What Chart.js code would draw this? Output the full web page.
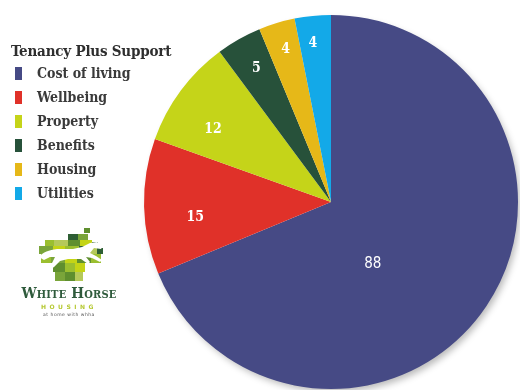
<!DOCTYPE html>
<html lang="en">
<head>
<meta charset="UTF-8">
<title>Tenancy Plus Support</title>
<script src="https://cdn.jsdelivr.net/npm/chart.js@4.4.0/dist/chart.umd.min.js"></script>
<style>
  body { margin: 0; background: #fff; }
  .wrap { position: relative; width: 520px; height: 390px; overflow: hidden; }
  #supportChart { position: absolute; left: 0; top: 0; }
  .legend { position: absolute; left: 11px; top: 42px; font-family: "DejaVu Serif Condensed", "DejaVu Serif", serif; font-weight: bold; color: #333; }
  .legend h3 { margin: 0 0 4px 0; font-size: 15px; letter-spacing: -0.2px; line-height: 18px; color: #2e2e2e; }
  .legend ul { list-style: none; margin: 0; padding: 0; }
  .legend li { height: 24px; line-height: 18px; font-size: 14px; position: relative; padding-left: 26px; color: #3a3a3a; }
  .legend li span { position: absolute; left: 4px; top: 3px; width: 7px; height: 13px; }
  .logo { position: absolute; left: 16px; top: 226px; width: 106px; text-align: center; font-family: "DejaVu Serif Condensed", "DejaVu Serif", serif; }
  .logo svg { display: block; margin-left: 1px; }
  .logo .name { font-size: 15px; font-weight: bold; font-variant: small-caps; color: #2f5b3c; letter-spacing: 0.2px; margin-top: 4px; line-height: 15px; }
  .logo .sub { font-family: "DejaVu Sans", sans-serif; font-size: 6px; font-weight: bold; color: #b6c933; letter-spacing: 3.5px; margin-top: 2px; line-height: 7px; }
  .logo .tag { font-family: "DejaVu Sans", sans-serif; font-size: 4.5px; color: #555; letter-spacing: 0.5px; margin-top: 2px; line-height: 6px; }
</style>
</head>
<body>
<div class="wrap">
  <canvas id="supportChart" width="520" height="390"></canvas>

  <div class="legend">
    <h3>Tenancy Plus Support</h3>
    <ul id="legendList"></ul>
  </div>

  <div class="logo">
    <svg width="104" height="56" viewBox="0 0 104 56">
      <!-- tile mosaic -->
      <rect x="67" y="2" width="6" height="5" fill="#5f8f2e"/>
      <rect x="51" y="8" width="10" height="6" fill="#2e5e34"/>
      <rect x="61" y="8" width="10" height="6" fill="#7aa53a"/>
      <rect x="28" y="14" width="9" height="6" fill="#9bbf2f"/>
      <rect x="37" y="14" width="14" height="6" fill="#b5c95a"/>
      <rect x="51" y="14" width="12" height="6" fill="#5f8f2e"/>
      <rect x="63" y="14" width="12" height="6" fill="#c4d416"/>
      <rect x="75" y="16" width="6" height="5" fill="#2e5e34"/>
      <rect x="22" y="20" width="14" height="8" fill="#7aa53a"/>
      <rect x="36" y="20" width="12" height="8" fill="#c4d416"/>
      <rect x="48" y="20" width="14" height="8" fill="#9bbf2f"/>
      <rect x="62" y="20" width="10" height="8" fill="#2e5e34"/>
      <rect x="72" y="20" width="8" height="8" fill="#b5c95a"/>
      <rect x="80" y="22" width="6" height="6" fill="#2e5e34"/>
      <rect x="24" y="28" width="10" height="9" fill="#9bbf2f"/>
      <rect x="34" y="28" width="14" height="9" fill="#7aa53a"/>
      <rect x="48" y="28" width="12" height="9" fill="#c4d416"/>
      <rect x="60" y="28" width="14" height="9" fill="#5f8f2e"/>
      <rect x="74" y="28" width="10" height="9" fill="#9bbf2f"/>
      <rect x="36" y="37" width="12" height="9" fill="#5f8f2e"/>
      <rect x="48" y="37" width="10" height="9" fill="#9bbf2f"/>
      <rect x="58" y="37" width="10" height="9" fill="#c4d416"/>
      <rect x="38" y="46" width="10" height="9" fill="#7aa53a"/>
      <rect x="48" y="46" width="10" height="9" fill="#5f8f2e"/>
      <rect x="58" y="46" width="8" height="9" fill="#b5c95a"/>
      <!-- galloping horse -->
      <path d="M22 31 C26 26 32 24 40 23 L56 23 L65 21 L73 17 L80 16 L86 20 L84 23 L77 22 L73 27 L79 30 L85 34 L83 36 L75 32 L69 31 L73 36 L71 38 L64 33 L51 33 L43 35 L37 41 L31 45 L29 43 L35 37 L38 31 L33 31 L27 34 Z" fill="#fff"/>
    </svg>
    <div class="name">White Horse</div>
    <div class="sub">HOUSING</div>
    <div class="tag">at home with whha</div>
  </div>
</div>

<script>
// Tenancy Plus Support cases by category
const categories = ["Cost of living", "Wellbeing", "Property", "Benefits", "Housing", "Utilities"];
const caseCounts = [88, 15, 12, 5, 4, 4];
const sliceColors = ["#464a85", "#e03129", "#c5d419", "#27513a", "#e6b818", "#13a9e8"];

// where each value label sits inside its slice: fraction along the arc, fraction of radius
const labelAlong = [0.59, 0.38, 0.35, 0.53, 0.53, 0.42];
const labelRadius = [0.40, 0.73, 0.74, 0.82, 0.85, 0.855];

// html legend
const legendList = document.getElementById("legendList");
categories.forEach((name, i) => {
  const li = document.createElement("li");
  li.innerHTML = `<span style="background:${sliceColors[i]}"></span>${name}`;
  legendList.appendChild(li);
});

// soft drop shadow behind the pie
const pieShadow = {
  id: "pieShadow",
  beforeDatasetsDraw(chart) {
    const arc = chart.getDatasetMeta(0).data[0];
    if (!arc) return;
    const { x, y, outerRadius } = arc.getProps(["x", "y", "outerRadius"], true);
    const ctx = chart.ctx;
    ctx.save();
    ctx.shadowColor = "rgba(0,0,0,0.28)";
    ctx.shadowBlur = 7;
    ctx.shadowOffsetX = 3;
    ctx.shadowOffsetY = 4;
    ctx.fillStyle = "#fff";
    ctx.beginPath();
    ctx.arc(x, y, outerRadius - 1, 0, Math.PI * 2);
    ctx.fill();
    ctx.restore();
  }
};

// white value labels inside each slice
const sliceLabels = {
  id: "sliceLabels",
  afterDatasetsDraw(chart) {
    const ctx = chart.ctx;
    const meta = chart.getDatasetMeta(0);
    ctx.save();
    ctx.fillStyle = "#fff";
    ctx.textAlign = "center";
    ctx.textBaseline = "middle";
    meta.data.forEach((arc, i) => {
      const p = arc.getProps(["x", "y", "startAngle", "endAngle", "outerRadius"], true);
      const a = p.startAngle + (p.endAngle - p.startAngle) * labelAlong[i];
      const r = p.outerRadius * labelRadius[i];
      ctx.font = i === 0 ? "15px 'DejaVu Sans Condensed', 'DejaVu Sans', sans-serif"
                         : "bold 14px 'DejaVu Serif Condensed', 'DejaVu Serif', serif";
      ctx.fillText(String(caseCounts[i]), p.x + Math.cos(a) * r, p.y + Math.sin(a) * r);
    });
    ctx.restore();
  }
};

new Chart(document.getElementById("supportChart"), {
  type: "pie",
  data: {
    labels: categories,
    datasets: [{
      data: caseCounts,
      backgroundColor: sliceColors,
      borderWidth: 0,
      hoverOffset: 0
    }]
  },
  options: {
    responsive: false,
    animation: false,
    layout: { padding: { left: 144, right: 2, top: 15, bottom: 1 } },
    plugins: {
      legend: { display: false },
      tooltip: { enabled: false }
    }
  },
  plugins: [pieShadow, sliceLabels]
});
</script>
</body>
</html>
